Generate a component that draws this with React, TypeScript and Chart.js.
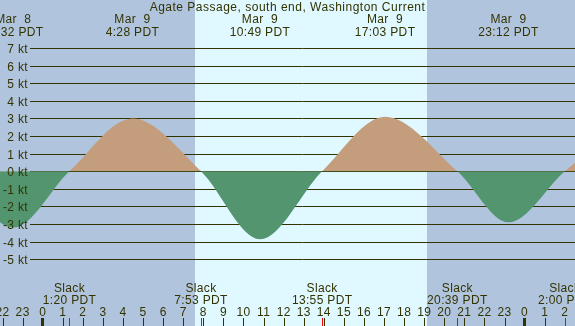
import React, { useEffect, useRef } from "react";
import { Chart, registerables } from "chart.js";

Chart.register(...registerables);

const TITLE = "Agate Passage, south end, Washington Current";

// Hours are measured from Mar 9 00:00 PDT
const curveHours = [-4.3, -1.467, 1.333, 4.467, 7.883, 10.817, 13.917, 17.05, 20.65, 23.2, 26.0, 29.2];
const curveKnots = [0, -3.2, 0, 3.0, 0, -3.86, 0, 3.1, 0, -2.9, 0, 2.9];

const extremeHours = [-1.467, 4.467, 10.817, 17.05, 23.2];
const extremeDates = ["Mar  8", "Mar  9", "Mar  9", "Mar  9", "Mar  9"];
const extremeTimes = ["22:32 PDT", "4:28 PDT", "10:49 PDT", "17:03 PDT", "23:12 PDT"];

const slackHours = [1.333, 7.883, 13.917, 20.65, 26.0];
const slackTimes = ["1:20 PDT", "7:53 PDT", "13:55 PDT", "20:39 PDT", "2:00 PDT"];

const sunriseHour = 7.567;
const sunsetHour = 19.117;

const knotTicks = [7, 6, 5, 4, 3, 2, 1, 0, -1, -2, -3, -4, -5];
const hourTicks = [-2, -1, 0, 1, 2, 3, 4, 5, 6, 7, 8, 9, 10, 11, 12, 13, 14, 15, 16, 17, 18, 19, 20, 21, 22, 23, 24, 25, 26];

const X_MIN = -2.127;
const X_MAX = 26.51;
const Y_MIN = -8.788;
const Y_MAX = 9.726;

const NIGHT = "#b0c4de";
const DAY = "#e0f8ff";
const FLOOD = "#c49e7c";
const EBB = "#52956f";
const INK = "#333300";
const FONT = '12px "Liberation Sans", Arial, sans-serif';

const decor = {
  id: "xtideDecor",
  beforeDraw(chart: any) {
    const { ctx, width, height } = chart;
    const xs = chart.scales.x;
    ctx.save();
    ctx.fillStyle = NIGHT;
    ctx.fillRect(0, 0, width, height);
    const x1 = Math.round(xs.getPixelForValue(sunriseHour));
    const x2 = Math.round(xs.getPixelForValue(sunsetHour));
    ctx.fillStyle = DAY;
    ctx.fillRect(x1, 0, x2 - x1, height);
    ctx.restore();
  },
  beforeDatasetsDraw(chart: any) {
    const { ctx, width } = chart;
    const ys = chart.scales.y;
    ctx.save();
    ctx.strokeStyle = INK;
    ctx.lineWidth = 1;
    for (const k of knotTicks) {
      const y = Math.round(ys.getPixelForValue(k)) + 0.5;
      ctx.beginPath();
      ctx.moveTo(30, y);
      ctx.lineTo(width, y);
      ctx.stroke();
    }
    ctx.restore();
  },
  afterDraw(chart: any) {
    const { ctx, width } = chart;
    const xs = chart.scales.x;
    const ys = chart.scales.y;
    ctx.save();
    ctx.fillStyle = INK;
    ctx.font = FONT;
    ctx.textBaseline = "alphabetic";

    // title
    ctx.textAlign = "center";
    (ctx as any).letterSpacing = "0.5px";
    ctx.fillText(TITLE, width / 2, 11);
    (ctx as any).letterSpacing = "0.35px";

    // knot labels
    ctx.textAlign = "right";
    for (const k of knotTicks) {
      const y = Math.round(ys.getPixelForValue(k));
      ctx.fillText(k + " kt", 28, y + 5);
    }

    // extreme labels
    ctx.textAlign = "center";
    extremeHours.forEach((h, i) => {
      const x = xs.getPixelForValue(h);
      ctx.fillText(extremeDates[i], x, 23);
      ctx.fillText(extremeTimes[i], x, 36);
    });

    // slack labels
    slackHours.forEach((h, i) => {
      const x = xs.getPixelForValue(h);
      ctx.fillText("Slack", x, 292);
      ctx.fillText(slackTimes[i], x, 304);
    });

    // hour labels and ticks
    for (const h of hourTicks) {
      const x = xs.getPixelForValue(h);
      const lab = String(((h % 24) + 24) % 24);
      ctx.fillText(lab, x, 316);
      const px = Math.round(x);
      if (((h % 24) + 24) % 24 === 0) {
        ctx.fillRect(px - 2, 318, 3, 8);
      } else {
        ctx.fillRect(px, 318, 1, 8);
      }
    }
    ctx.fillStyle = "#ff0000";
    for (const h of slackHours) {
      const px = Math.round(xs.getPixelForValue(h));
      ctx.fillRect(px, 318, 1, 8);
    }
    ctx.restore();
  },
};

export default function App() {
  const ref = useRef<HTMLCanvasElement | null>(null);
  useEffect(() => {
    document.body.style.margin = "0";
    const canvas = ref.current;
    if (!canvas) return;
    const chart = new Chart(canvas, {
      type: "line",
      data: {
        datasets: [
          {
            data: curveHours.map((h, i) => ({ x: h, y: curveKnots[i] })),
            borderColor: "rgba(0,0,0,0)",
            borderWidth: 0,
            pointRadius: 0,
            cubicInterpolationMode: "monotone",
            fill: { target: "origin", above: FLOOD, below: EBB },
          } as any,
        ],
      },
      options: {
        animation: false,
        responsive: false,
        devicePixelRatio: 1,
        layout: { padding: 0 },
        events: [],
        scales: {
          x: { type: "linear", min: X_MIN, max: X_MAX, display: false },
          y: { type: "linear", min: Y_MIN, max: Y_MAX, display: false },
        },
        plugins: {
          legend: { display: false },
          tooltip: { enabled: false },
          title: { display: false },
        },
      },
      plugins: [decor],
    });
    return () => chart.destroy();
  }, []);
  return (
    <canvas ref={ref} width={575} height={326} style={{ display: "block", width: 575, height: 326 }} />
  );
}
